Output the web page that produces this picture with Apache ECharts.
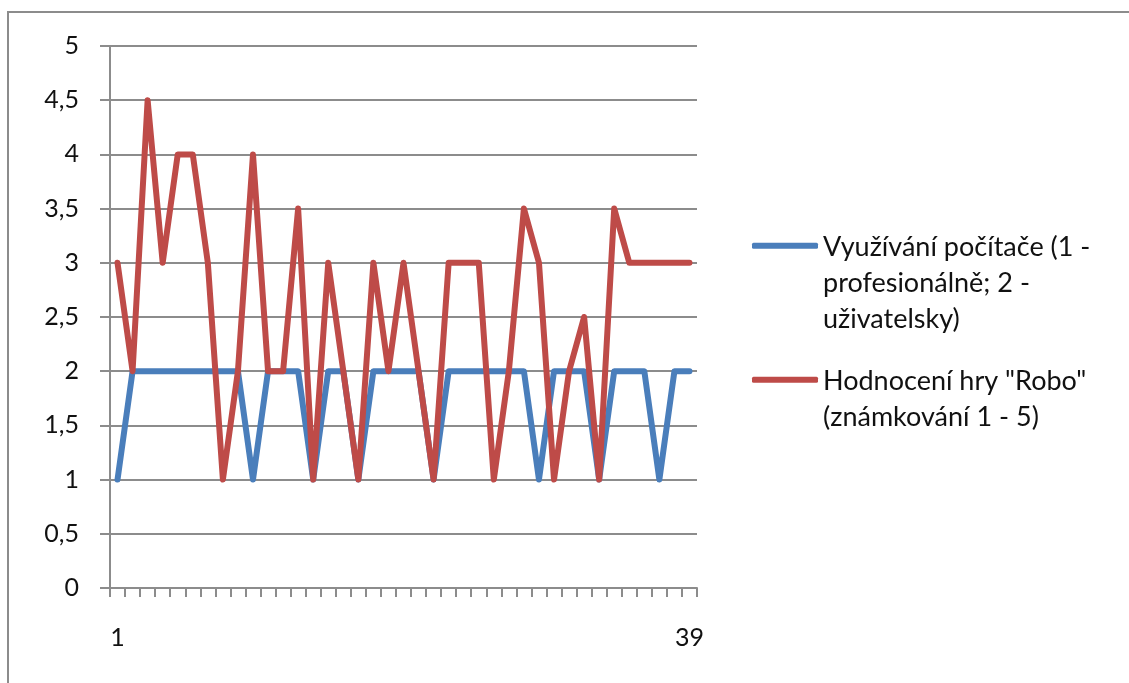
<!DOCTYPE html>
<html>
<head>
<meta charset="utf-8">
<script src="https://cdn.jsdelivr.net/npm/echarts@6/dist/echarts.min.js"></script>
<style>
  html, body { margin: 0; padding: 0; background: #ffffff; }
  #chart { width: 1129px; height: 683px; }
</style>
</head>
<body>
<div id="chart"></div>
<script>
// Respondent numbers 1..39
const categories = Array.from({ length: 39 }, (_, i) => String(i + 1));

// Využívání počítače (1 - profesionálně; 2 - uživatelsky)
const pcUsage = [
  1, 2, 2, 2, 2, 2, 2, 2, 2, 1,
  2, 2, 2, 1, 2, 2, 1, 2, 2, 2,
  2, 1, 2, 2, 2, 2, 2, 2, 1, 2,
  2, 2, 1, 2, 2, 2, 1, 2, 2
];

// Hodnocení hry "Robo" (známkování 1 - 5)
const roboRating = [
  3, 2, 4.5, 3, 4, 4, 3, 1, 2, 4,
  2, 2, 3.5, 1, 3, 2, 1, 3, 2, 3,
  2, 1, 3, 3, 3, 1, 2, 3.5, 3, 1,
  2, 2.5, 1, 3.5, 3, 3, 3, 3, 3
];

const seriesNames = [
  'Využívání počítače (1 -\nprofesionálně; 2 -\nuživatelsky)',
  'Hodnocení hry "Robo"\n(známkování 1 - 5)'
];

const FONT = 'Lato';
const TEXT = '#111111';
const GRID = '#8c8c8c';
const LINE_H = 36;

const chart = echarts.init(document.getElementById('chart'), null, { renderer: 'canvas' });

chart.setOption({
  animation: false,
  backgroundColor: '#ffffff',
  textStyle: { fontFamily: FONT },
  graphic: [{
    type: 'rect',
    shape: { x: 8, y: 12, width: 1300, height: 900 },
    style: { fill: 'none', stroke: GRID, lineWidth: 2 },
    silent: true,
    z: -1
  }],
  grid: { left: 110, right: 432, top: 46, bottom: 95, containLabel: false },
  legend: {
    orient: 'vertical',
    left: 747,
    top: 148.7,
    itemWidth: 66,
    itemHeight: 6,
    itemGap: -14,
    icon: 'roundRect',
    selectedMode: false,
    textStyle: {
      fontFamily: FONT,
      fontSize: 27,
      color: TEXT,
      lineHeight: LINE_H,
      rich: {}
    },
    // top padding keeps the marker level with the first text line
    data: [
      { name: seriesNames[0], textStyle: { padding: [2 * LINE_H + 4, 0, 0, 0] } },
      { name: seriesNames[1], textStyle: { padding: [LINE_H + 4, 0, 0, 0] } }
    ]
  },
  xAxis: {
    type: 'category',
    data: categories,
    boundaryGap: true,
    axisLine: { lineStyle: { color: GRID, width: 2 } },
    axisTick: { show: true, length: 9, lineStyle: { color: GRID, width: 2 }, interval: 0 },
    axisLabel: {
      interval: (idx) => idx === 0 || idx === categories.length - 1,
      margin: 37,
      fontFamily: FONT,
      fontSize: 25,
      color: TEXT
    },
    splitLine: { show: false }
  },
  yAxis: {
    type: 'value',
    min: 0,
    max: 5,
    interval: 0.5,
    axisLine: { show: true, lineStyle: { color: GRID, width: 2 } },
    axisTick: { show: true, length: 10, lineStyle: { color: GRID, width: 2 } },
    axisLabel: {
      margin: 31,
      fontFamily: FONT,
      fontSize: 25,
      color: TEXT,
      formatter: (v) => String(v).replace('.', ',')
    },
    splitLine: { show: true, lineStyle: { color: GRID, width: 2 } }
  },
  series: [
    {
      name: seriesNames[0],
      type: 'line',
      data: pcUsage,
      symbol: 'none',
      color: '#4a7ebb',
      lineStyle: { width: 6, color: '#4a7ebb', join: 'round', cap: 'round' },
      z: 2
    },
    {
      name: seriesNames[1],
      type: 'line',
      data: roboRating,
      symbol: 'none',
      color: '#be4b48',
      lineStyle: { width: 6, color: '#be4b48', join: 'round', cap: 'round' },
      z: 3
    }
  ]
});
</script>
</body>
</html>
